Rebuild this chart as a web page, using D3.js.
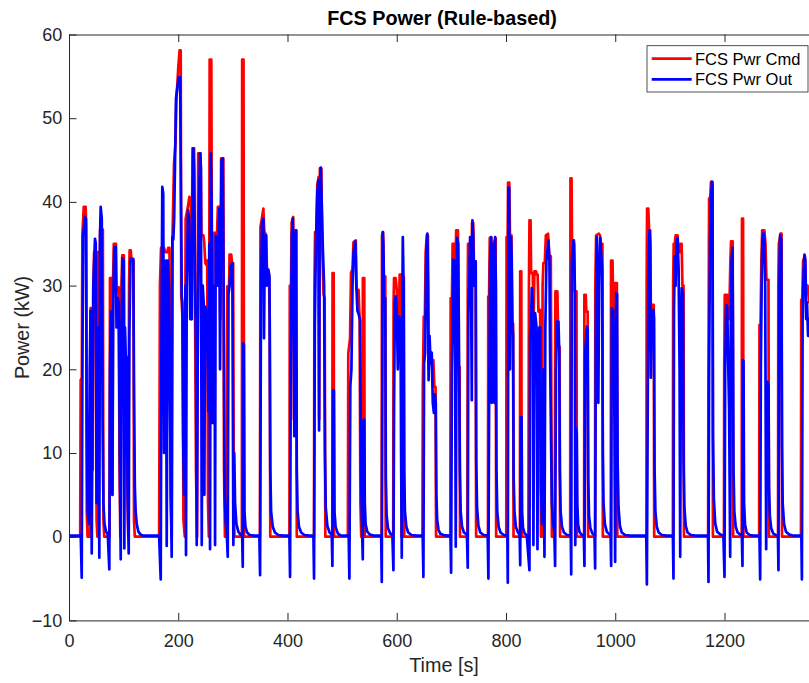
<!DOCTYPE html>
<html>
<head>
<meta charset="utf-8">
<script src="https://cdn.jsdelivr.net/npm/d3@7"></script>
<style>
  html, body { margin: 0; padding: 0; background: #ffffff; }
  svg { display: block; font-family: "Liberation Sans", Arial, Helvetica, sans-serif; }
</style>
</head>
<body>
<svg id="chart" width="809" height="683"></svg>
<script>
// Fuel-cell system power: commanded vs delivered, [time s, power kW]
const seriesNames = ["FCS Pwr Cmd", "FCS Pwr Out"];
const seriesColors = ["#ff0000", "#0000ff"];

const pwrCmd = [
  [0,0],[20.5,0],[21.4,18.7],[23.5,19],[24.5,36],[27,39.4],[30.5,39.4],[31.5,37],[32.5,3],[34,0],[38.5,0],[39.5,27.3],[42.5,27.3],[43.5,8],[44.5,30],[46,34],[49,34],[50.5,2],[52,0],[53,34],[54.8,34],[56,30],[57,36.7],[62,36.7],[63,2],[64.5,0],[74.2,0],[75,30.9],[78,30.9],[79.5,5],[80.5,30],[82,35],[86,35],[87,29.2],[91,29.8],[92.5,8],[94,0],[96,30],[97.5,33.6],[100.5,33.6],[101.5,10],[102.5,20],[104,21.5],[106,21.5],[107,5],[108.5,0],[110,30],[111,34.2],[113,34.2],[114.5,33],[118,33],[119,2],[120.5,0],
  [165,0],[166.5,30],[168.5,34.5],[174,34.5],[176,34],[180,34],[181.5,34.5],[184,34.5],[186,5],[188,0],[189.5,36],[192.3,44.6],[195,47],[196.5,52],[200,56],[202.5,58.1],[204.5,58.1],[205.5,29],[208,26],[209.5,2],[212,0],[213.5,38],[217.9,39.5],[220.3,40.6],[223,40],[224.5,26],[226,46.4],[229,46.4],[230.5,30],[232.5,8],[234.5,0],[236.5,45.8],[241,45.8],[242.5,36],[246,36],[247.5,35.2],[249.5,32.7],[251,32.5],[253,33],[254.5,4],[256,0],[257.5,57],[260.5,57],[261.5,36],[263,13.6],[264.5,36.3],[269,36.3],[271,36],[272.5,39.4],[275.5,39.4],[276.8,26],[278.5,45.2],[282.5,45.2],[283.8,8],[285.5,0],[289,0],[289.8,29.9],[293,29.9],[294,33.7],[297,33.7],[298.5,32.7],[300.5,32.7],[301.8,3],[303,0],[316.5,0],[317,57],[319.5,57],[320.5,0],
  [349.5,0],[350.5,37],[353,38],[355.8,39.2],[357.5,36.5],[361,36],[362.5,31.5],[366,31.5],[367.5,26],[368.5,0],
  [403.5,0],[404.2,30],[406.5,30],[407.5,37.5],[410.5,38.2],[411.8,14],[413,36.6],[416,36.6],[417,0],
  [448.5,0],[449.3,30],[450.5,36.4],[453,36.4],[454.5,42],[457,43],[458,14],[459.3,44],[462,44],[463.5,35],[466,29],[468,28.5],[469.3,0],
  [482,0],[482.5,31.5],[484.5,31.5],[485.3,0],
  [510.5,0],[511.3,21.9],[514.5,23.7],[516.3,31.5],[519,32],[520.8,35.2],[525,35.4],[526.3,29.5],[530,29.5],[532,26],[533.5,4],[535,0],[537.5,0],[538,30.9],[540.5,30.9],[541.3,0],
  [572.3,0],[573,36],[575,36.4],[576.3,31.1],[579,31.1],[579.8,0],
  [593.5,0],[594.2,28],[595.1,30.9],[598,30.9],[600,29.5],[602,26],[604,26],[605.3,31.3],[608,31.3],[608.8,0],[610.3,0],[611,31],[613,31],[613.8,0],
  [647,0],[647.7,17.9],[649.5,26.3],[651.5,26.3],[653,34],[655,36],[657,36],[658.3,20],[661,22],[664,21.1],[667,21.1],[668.8,17.9],[671,17.9],[672,0],
  [698,0],[698.7,28.5],[701,28.5],[702.3,35],[706,35],[707.5,32],[708.8,36.6],[712,36.6],[713.3,20.3],[715,20.3],[715.8,0],
  [729.3,0],[730,30],[730.5,35],[735,35],[736.5,30],[737.8,37.5],[740,37.5],[741.3,32.9],[744.5,32.9],[745.3,0],
  [767,0],[767.5,28.7],[769,28.7],[770.3,35.7],[773,35.7],[774.5,34],[777,35],[781,35.7],[782,0],
  [800.5,0],[801,35.8],[803,35.8],[803.8,42.3],[806,42.3],[807.3,36],[810,36],[811,25.5],[813,25.5],[813.8,0],
  [825.5,0],[826,31.7],[828,31.7],[828.8,0],
  [841,0],[842,30],[843,37.8],[845,37.8],[846,31.5],[849,31.5],[850.5,26],[852,31.7],[855,31.7],[856.4,31.3],[858,31.3],[859.4,26.9],[862.5,27.1],[864,0],[866,0],[867,30],[868.5,32.7],[871,32.7],[873,36],[877,36.2],[879,33.7],[882,33.5],[884,0],[889,0],[890.5,29.3],[894,29.3],[896,22.7],[898,22.7],[899,0],
  [917.5,0],[918,42.8],[920,42.8],[920.8,35.4],[924.5,35.4],[925.8,29.3],[929,29.3],[929.8,0],
  [943,0],[943.5,28.9],[946,28.9],[947,26.9],[949.5,26.9],[950.3,0],
  [963,0],[963.5,30],[965,36],[970,36.2],[972,36],[974,35],[976.5,35],[977.3,0],
  [991.8,0],[992.3,33],[995,33],[996.5,26],[998,26],[999.5,30.3],[1003,30.3],[1003.8,0],
  [1057,0],[1057.5,30],[1058.3,39.2],[1060.5,39.2],[1062,36.6],[1064,36.6],[1065.3,26],[1067.5,27.7],[1070.5,27.7],[1071.3,0],
  [1105.5,0],[1106,30],[1107,35],[1109,35],[1110.5,36],[1114,36],[1116,34],[1118,34],[1119.5,35],[1121.5,35],[1123,30],[1125,30],[1125.8,0],
  [1170,0],[1170.5,16.9],[1171.8,40.4],[1174,40.6],[1175.3,42.4],[1178,42.4],[1178.8,0],
  [1199,0],[1199.5,20],[1200.5,28.9],[1205,28.9],[1206.5,26],[1208.5,26],[1210.8,33],[1212,35.3],[1215,35.3],[1215.8,0],
  [1231.5,0],[1232,38],[1234,38],[1234.8,0],
  [1263.5,0],[1264,25.3],[1266,25.3],[1267.5,33],[1269,36.6],[1273,36.6],[1275,35],[1276.8,30.7],[1280.5,30.7],[1281.3,0],
  [1298,0],[1298.5,30],[1299.5,35],[1301,35.5],[1302.3,36.2],[1304.5,36.2],[1305.3,0],
  [1340,0],[1340.5,28.3],[1342.3,28.3],[1344,33],[1347,33.5],[1349,30],[1352,30],[1355,28],[1360,28],[1362,25],[1366,25],[1368,0],[1373,0]
];

const pwrOut = [
  [0,0.12],[21.5,0.12],[23.3,-4.9],[24.5,20],[26,36],[29,38.2],[31,38],[32.5,13],[34,3],[36,1.5],[38,20],[39.5,27],[41.6,-2],[43,14],[44.5,30],[47.6,35.6],[49,35],[50.5,4],[52,20],[53.5,25],[55.5,-2.5],[56.8,36],[58,39.4],[60,38],[61.5,14],[63,4],[65,1.5],[68,0.6],[71,0.3],[73.8,-3.9],[75,20],[76.9,26.9],[78,20],[79.5,5],[81,28],[83,34.6],[85.5,34.6],[87,25],[89,28.5],[91,28],[93,10],[94.7,-2.7],[96.3,25],[98,33.3],[100.2,33],[101.3,-1.4],[102.5,25],[104,21.4],[105.7,21.4],[107.3,5],[109.3,-2],[110.5,24],[112.6,33.2],[117.7,33.2],[119,18],[120.5,6],[122,3],[124,1.5],[127,0.6],[131,0.25],[136,0.12],
  [165,0.12],[167.9,-5.1],[169,20],[170.8,41.8],[172.5,41],[174,10],[176,25],[177.5,33],[178.9,-1.1],[180,20],[181,33],[183,30],[185,15],[186.5,5],[188,-2.4],[189.2,35.8],[191,35.5],[192.5,38],[195.9,52.4],[199,54],[201,54.9],[203.5,54.9],[205,40],[206.4,28.7],[207.5,28],[209,12],[210.6,5],[212,20],[213.2,30],[214.2,-2.2],[215.5,30],[217.9,39],[220,38],[222,26],[224.7,26],[226,40],[227.6,46.4],[229,44],[231,30],[232.6,22],[233.8,-1],[235.5,20],[238,40],[239.9,45.8],[241.5,44],[243,-1],[244.8,30],[246.5,28],[247.8,5],[249,27.5],[251,27],[253.3,25],[255,15],[256.8,35],[258.2,-1.5],[259.5,45.8],[261,40],[263.1,13.6],[265,20],[266.5,30],[267.4,-1],[268.5,36],[270.5,35.8],[272,30],[275.2,39.2],[276.5,20],[278,35],[279.3,45],[281.5,45.2],[283,30],[285,5],[287,1.5],[288.5,0.8],[290.6,-2.4],[292,29],[294,30],[296.1,32.3],[299,32.7],[300.9,-1],[302.5,10],[304,4],[306.5,1.5],[310,0.6],[314,0.25],[317,0.15],[318.1,-3.6],[319,23.1],[320.2,23],[321.2,3],[323,1.2],[326,0.5],[331,0.2],[340,0.12],
  [348.5,0.12],[349.8,-4.6],[351.5,30],[353.4,37.5],[355.8,38],[357,23.7],[358.5,36],[360.5,36],[362,30],[365,31.9],[367,31],[368.5,8],[370,3],[373,1.2],[377,0.5],[383,0.2],[392,0.12],
  [403.5,0.12],[404.7,-4.8],[406,20],[408,36],[409.6,38],[411,32],[412.5,12],[413.8,36],[415.7,36.6],[417,8],[418.5,3],[421,1.2],[425,0.5],[431,0.2],[440,0.12],
  [447.5,0.12],[448.6,-5],[450,25],[452,35],[454.5,41],[456.5,42.6],[457.8,12.7],[459,42],[460.9,44.1],[462.5,40],[464.6,34.6],[467,30],[468.5,10],[470,3.5],[473,1.3],[477,0.5],[481,0.25],
  [482.2,-3.5],[483.5,17.5],[485,17.5],[486,3],[488,1.2],[492,0.4],[497,0.15],[503,0.12],
  [512,0.12],[513.3,-5],[515,18],[517,20],[519,30],[521,34],[524.3,35.3],[526,30],[528,27],[529.8,26.7],[532.9,25.9],[534.5,8],[536,2.5],[537.8,-2.7],[539,13.9],[540.5,14],[541.5,4],[543,1.5],[546,0.6],[551,0.25],[560,0.12],
  [571.5,0.12],[572.6,-5.4],[574.4,36.4],[575.5,35],[576.8,28.5],[579,28.5],[580,7],[581.5,2.5],[584,1],[588,0.4],[592,0.2],
  [593.9,-4],[595,15],[596.5,28],[598.2,28.7],[600,27],[602,20],[604.3,26.3],[607,26],[608,10],[609.2,-2.5],[610.5,30],[611.1,35.8],[612.5,30],[613.5,8],[615,3],[617.5,1.2],[621,0.5],[627,0.2],[636,0.12],
  [647.5,0.12],[648.8,-4.8],[650,20.7],[652,22],[654,34],[656,36.2],[657.3,30],[658.3,18.7],[660,24],[662,20.7],[664,22],[666,16],[668,14.8],[670,17],[671.5,16],[672.5,5],[674,2],[676.5,0.8],[680,0.35],[688,0.15],[697,0.12],
  [698.3,0.12],[699.5,-4.3],[701,20],[703.7,33.1],[705.5,33],[707,20],[708,-1.2],[709.5,25],[710.5,35.7],[712.5,35],[714,22],[715.5,8],[717,3],[719.5,1.2],[723,0.5],[728.5,0.25],
  [730,-3.7],[731,26.7],[732.5,30],[734.3,35.8],[736,30],[737.4,16.3],[738.5,37.8],[740,36],[741.5,30],[744.5,32.9],[745.5,9],[747,3.5],[749.5,1.3],[753,0.5],[759,0.2],[766.5,0.15],
  [767.8,-5],[769,15],[771,33],[772.8,35.8],[774,16],[775.5,34],[777.5,35],[778.8,16],[780,35.8],[781.5,30],[782.5,8],[784,3],[786.5,1.2],[790,0.5],[796,0.2],[802,0.12],
  [802.5,0.12],[803.3,-5.5],[804.4,41.7],[805.8,41.7],[807.3,20],[809.3,35.8],[810.5,33],[811.8,25.5],[813,24],[814,7],[815.5,3],[818,1.2],[822,0.5],[825,0.25],
  [826,-3.4],[827.2,14.3],[828.5,14.3],[829.5,3],[831,1.1],[834,0.4],[838,0.2],
  [842.9,-4],[844.2,23.9],[845.5,25],[847.3,29.7],[849,28],[850.2,-1],[851.5,20],[853.3,26.7],[856,25],[857.6,-1.5],[859,20],[861.2,25],[862.5,25],[864,6],[866,1.5],[868.5,20],[870.4,-2.4],[872,25],[874,33],[877.7,35.4],[879.5,33],[881,20],[882.6,10.8],[884,4],[886.5,1.5],[888.5,0.6],[889.9,-3.5],[891.5,20],[893,25.7],[896,25.7],[897.5,22],[898.5,8],[900,3],[902.5,1.2],[906,0.5],[912,0.2],
  [918.6,0.12],[919.4,-4.5],[920.5,32.7],[922.9,35.4],[924.5,35],[926,30],[926.8,-1],[927.8,13],[929.5,12.4],[930.5,4],[932,1.5],[934.5,0.6],[938,0.25],[942.5,0.15],
  [943.6,-3.5],[945,22],[948,25.1],[949.5,25],[950.5,7],[952,2.5],[954.5,1],[958,0.4],[962,0.2],
  [963.2,-3.8],[964.5,25],[966.2,35.8],[968,30],[969,16],[970.5,30],[972.4,35.7],[974,34],[976,32],[977.3,10],[978.5,4],[981,1.5],[984.5,0.6],[990,0.25],
  [991.5,0.12],[992.5,-3.5],[993.7,27.3],[996,27],[998,20],[999.8,-3],[1001,20],[1001.7,29.1],[1003.3,29],[1004.3,9],[1006,3.5],[1008.5,1.3],[1012,0.5],[1018,0.2],[1027,0.12],
  [1056.8,0.12],[1057.9,-5.7],[1059,9.2],[1060.5,30],[1062.6,36.6],[1064,35],[1065.2,19],[1066.5,24],[1068,26],[1070,27.1],[1071,26],[1072,8],[1073.5,3],[1076,1.2],[1079.5,0.5],[1085.5,0.2],[1094,0.12],
  [1105.5,0.12],[1106.6,-5],[1107.5,27],[1109,33.5],[1110.5,30],[1112,35],[1114,35.7],[1116,32],[1117.8,20],[1118.9,-2.4],[1120.3,25],[1121.8,29.7],[1124,29],[1125,9],[1126.5,3.5],[1129,1.3],[1132.5,0.5],[1138.5,0.2],[1147,0.12],
  [1169.8,0.12],[1170.7,-5.4],[1171.8,20],[1173.5,35],[1175,40],[1176.9,42.4],[1178,42],[1179,12],[1180.5,4.5],[1183,1.6],[1186.5,0.6],[1192.5,0.25],[1198,0.15],
  [1200,-4.8],[1201.2,20],[1203,27.7],[1205,27.5],[1207,20],[1208.5,15],[1210.4,-2.4],[1211.5,25],[1213,33],[1214.6,34.5],[1215.5,26],[1216.5,8],[1218,3],[1220.5,1.2],[1224,0.5],[1229,0.25],
  [1231.8,0.15],[1232.9,-3.5],[1233.8,21.1],[1234.8,21],[1235.8,4],[1237.5,1.5],[1240.5,0.5],[1246,0.2],[1254,0.12],
  [1264,0.12],[1265.3,-5.1],[1266.5,20],[1268,30],[1269.5,35.5],[1271.4,36.3],[1273,35.5],[1274.5,30],[1276.3,-1.5],[1277.5,15],[1278.7,18.5],[1280.5,18],[1281.5,6],[1283,2.5],[1285.5,1],[1289,0.4],[1294,0.2],
  [1297.8,0.15],[1298.8,-4],[1300,25],[1301,34],[1302,36],[1304,35.5],[1305.3,11],[1306.5,4],[1309,1.5],[1312.5,0.6],[1318.5,0.25],[1327,0.12],
  [1340.7,0.12],[1341.7,-5.1],[1343,26],[1345,32],[1346.5,33.7],[1348,33],[1349.5,26],[1351,28],[1353,24],[1355,26],[1357,25],[1360,20],[1362,24],[1366,24],[1368,8],[1370,3],[1373,1.2]
];

const xTicks = [0, 200, 400, 600, 800, 1000, 1200];
const yTicks = [-10, 0, 10, 20, 30, 40, 50, 60];
const xDomain = [0, 1373];
const yDomain = [-10, 60];
const titleText = "FCS Power (Rule-based)";
const xLabelText = "Time [s]";
const yLabelText = "Power (kW)";

// ---- layout ----
const svg = d3.select("#chart");
const box = { left: 69, top: 34.5, right: 819, bottom: 620.4 };
const axisColor = "#262626";
const tickLen = 7.5;

const x = d3.scaleLinear().domain(xDomain).range([box.left, box.right]);
const y = d3.scaleLinear().domain(yDomain).range([box.bottom, box.top]);

svg.append("rect").attr("width", 809).attr("height", 683).attr("fill", "#ffffff");

svg.append("defs").append("clipPath").attr("id", "plotClip")
  .append("rect")
  .attr("x", box.left).attr("y", box.top)
  .attr("width", box.right - box.left).attr("height", box.bottom - box.top);

// ---- data lines ----
const line = d3.line().x(d => x(d[0])).y(d => y(d[1]));
const plot = svg.append("g").attr("clip-path", "url(#plotClip)");
[pwrCmd, pwrOut].forEach((s, i) => {
  plot.append("path")
    .datum(s)
    .attr("fill", "none")
    .attr("stroke", seriesColors[i])
    .attr("stroke-width", 2.7)
    .attr("stroke-linejoin", "round")
    .attr("stroke-linecap", "round")
    .attr("d", line);
});

// ---- axes (box with inward ticks) ----
function styleAxis(g) {
  g.selectAll(".domain").attr("stroke", axisColor).attr("stroke-width", 1);
  g.selectAll(".tick line").attr("stroke", axisColor).attr("stroke-width", 1);
  g.selectAll(".tick text").attr("fill", axisColor)
    .style("font-size", "18px")
    .style("font-family", "'Liberation Sans', Arial, Helvetica, sans-serif");
}

svg.append("g").attr("transform", `translate(0,${box.bottom})`)
  .call(d3.axisBottom(x).tickValues(xTicks).tickSizeInner(-tickLen).tickSizeOuter(0).tickPadding(13.5).tickFormat(d3.format("d")))
  .call(styleAxis);

svg.append("g").attr("transform", `translate(0,${box.top})`)
  .call(d3.axisTop(x).tickValues(xTicks).tickSizeInner(-tickLen).tickSizeOuter(0).tickFormat(""))
  .call(styleAxis);

svg.append("g").attr("transform", `translate(${box.left},0)`)
  .call(d3.axisLeft(y).tickValues(yTicks).tickSizeInner(-tickLen).tickSizeOuter(0).tickPadding(6.7).tickFormat(d3.format("d")))
  .call(styleAxis);

svg.append("g").attr("transform", `translate(${box.right},0)`)
  .call(d3.axisRight(y).tickValues(yTicks).tickSizeInner(-tickLen).tickSizeOuter(0).tickFormat(""))
  .call(styleAxis);

// ---- title and axis labels ----
svg.append("text")
  .attr("x", 442).attr("y", 25)
  .attr("text-anchor", "middle")
  .attr("fill", "#000000")
  .style("font-size", "19.8px").style("font-weight", "bold")
  .text(titleText);

svg.append("text")
  .attr("x", (box.left + box.right) / 2).attr("y", 672)
  .attr("text-anchor", "middle")
  .attr("fill", axisColor)
  .style("font-size", "19.8px")
  .text(xLabelText);

svg.append("text")
  .attr("transform", `translate(29,${(box.top + box.bottom) / 2}) rotate(-90)`)
  .attr("text-anchor", "middle")
  .attr("fill", axisColor)
  .style("font-size", "19.8px")
  .text(yLabelText);

// ---- legend ----
const lg = svg.append("g");
lg.append("rect")
  .attr("x", 647).attr("y", 45.7).attr("width", 161).attr("height", 46.3)
  .attr("fill", "#ffffff").attr("stroke", axisColor).attr("stroke-width", 0.8);
const rowsY = [58.7, 79.3];
seriesNames.forEach((name, i) => {
  lg.append("line")
    .attr("x1", 651.7).attr("x2", 691.7)
    .attr("y1", rowsY[i]).attr("y2", rowsY[i])
    .attr("stroke", seriesColors[i]).attr("stroke-width", 2.7);
  lg.append("text")
    .attr("x", 695).attr("y", rowsY[i] + 6)
    .attr("fill", "#000000")
    .style("font-size", "16.5px")
    .text(name);
});
</script>
</body>
</html>
